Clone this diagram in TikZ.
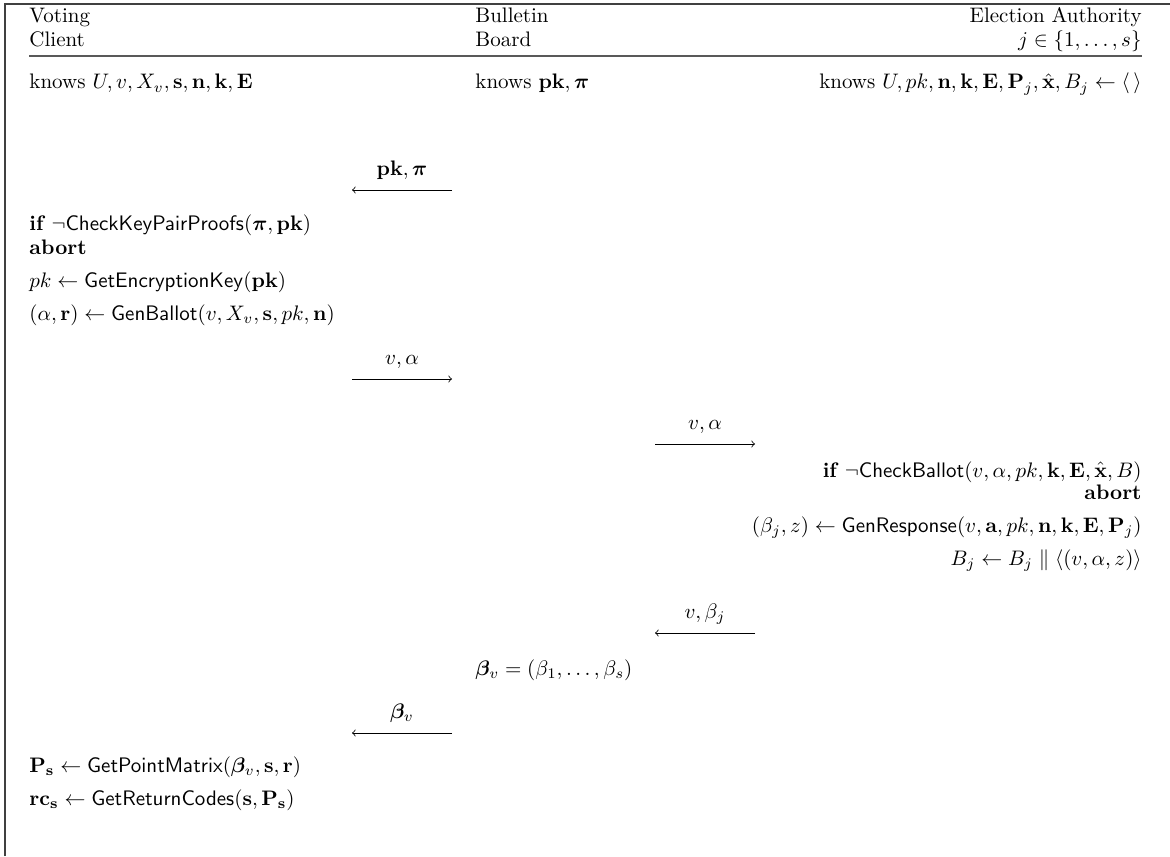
\documentclass[tikz,border=0pt]{standalone}
\usepackage{amsmath}
\usepackage{amssymb}
\usepackage{bm}
\usetikzlibrary{positioning}

\begin{document}
\begin{tikzpicture}[>=to,x=0.5pt,y=-0.5pt,
    txtl/.style={anchor=base west,inner sep=0pt,scale=1.05},
    txtr/.style={anchor=base east,inner sep=0pt,scale=1.05},
    msglbl/.style={midway,anchor=base,yshift=7.5pt,inner sep=0pt,scale=1.05}]
  % Configurable parameters
  \def\colA{29}
  \def\colB{475}
  \def\colC{1142}
  \def\ax{352}
  \def\bx{452}
  \def\cx{655}
  \def\dx{755}
  %
  % Frame
  \useasboundingbox (0,0) rectangle (1170,856);
  \draw[line width=0.7pt,black!75] (5,856) -- (5,4) -- (1170,4);
  %
  % Header
  \node[txtl] (vc1) at (\colA,23) {Voting};
  \node[txtl] (vc2) at (\colA,47) {Client};
  \node[txtl] (bb1) at (\colB,23) {Bulletin};
  \node[txtl] (bb2) at (\colB,47) {Board};
  \node[txtr] (ea1) at (\colC,23) {Election Authority};
  \node[txtr] (ea2) at (\colC,47) {$j \in \{1,\dots,s\}$};
  \draw[line width=0.8pt,black!65] (\colA,56) -- (\colC,56);
  %
  % Knowledge
  \node[txtl] (kvc) at (\colA,89)
    {knows $U, v, X_v, \mathbf{s}, \mathbf{n}, \mathbf{k}, \mathbf{E}$};
  \node[txtl] (kbb) at (\colB,89) {knows $\mathbf{pk}, \bm{\pi}$};
  \node[txtr] (kea) at (\colC,89)
    {knows $U, pk, \mathbf{n}, \mathbf{k}, \mathbf{E}, \mathbf{P}_j, \hat{\mathbf{x}}, B_j \leftarrow \langle\,\rangle$};
  %
  % Public key to client
  \coordinate (m1s) at (\bx,190);
  \coordinate (m1e) at (\ax,190);
  \draw[->] (m1s) -- (m1e) node[msglbl] (l1) {$\mathbf{pk}, \bm{\pi}$};
  %
  % Client computations
  \node[txtl] (c1) at (\colA,230)
    {$\textbf{if } \neg\mathsf{CheckKeyPairProofs}(\bm{\pi}, \mathbf{pk})$};
  \node[txtl] (c2) at (\colA,254) {\textbf{abort}};
  \node[txtl] (c3) at (\colA,287)
    {$pk \leftarrow \mathsf{GetEncryptionKey}(\mathbf{pk})$};
  \node[txtl] (c4) at (\colA,320)
    {$(\alpha, \mathbf{r}) \leftarrow \mathsf{GenBallot}(v, X_v, \mathbf{s}, pk, \mathbf{n})$};
  %
  % Ballot to board
  \coordinate (m2s) at (\ax,379);
  \coordinate (m2e) at (\bx,379);
  \draw[->] (m2s) -- (m2e) node[msglbl] (l2) {$v, \alpha$};
  %
  % Ballot to authority
  \coordinate (m3s) at (\cx,444);
  \coordinate (m3e) at (\dx,444);
  \draw[->] (m3s) -- (m3e) node[msglbl] (l3) {$v, \alpha$};
  %
  % Authority computations
  \node[txtr] (a1) at (\colC,477)
    {$\textbf{if } \neg\mathsf{CheckBallot}(v, \alpha, pk, \mathbf{k}, \mathbf{E}, \hat{\mathbf{x}}, B)$};
  \node[txtr] (a2) at (\colC,499) {\textbf{abort}};
  \node[txtr] (a3) at (\colC,532)
    {$(\beta_j, z) \leftarrow \mathsf{GenResponse}(v, \mathbf{a}, pk, \mathbf{n}, \mathbf{k}, \mathbf{E}, \mathbf{P}_j)$};
  \node[txtr] (a4) at (\colC,565)
    {$B_j \leftarrow B_j \parallel \langle(v, \alpha, z)\rangle$};
  %
  % Response to board
  \coordinate (m4s) at (\dx,633);
  \coordinate (m4e) at (\cx,633);
  \draw[->] (m4s) -- (m4e) node[msglbl] (l4) {$v, \beta_j$};
  %
  % Board collects
  \node[txtl] (b1) at (\colB,675) {$\bm{\beta}_v = (\beta_1, \dots, \beta_s)$};
  %
  % Responses to client
  \coordinate (m5s) at (\bx,733);
  \coordinate (m5e) at (\ax,733);
  \draw[->] (m5s) -- (m5e) node[msglbl] (l5) {$\bm{\beta}_v$};
  %
  % Return codes
  \node[txtl] (c5) at (\colA,772)
    {$\mathbf{P}_{\mathbf{s}} \leftarrow \mathsf{GetPointMatrix}(\bm{\beta}_v, \mathbf{s}, \mathbf{r})$};
  \node[txtl] (c6) at (\colA,805)
    {$\mathbf{rc}_{\mathbf{s}} \leftarrow \mathsf{GetReturnCodes}(\mathbf{s}, \mathbf{P}_{\mathbf{s}})$};
  %
\end{tikzpicture}
\end{document}
